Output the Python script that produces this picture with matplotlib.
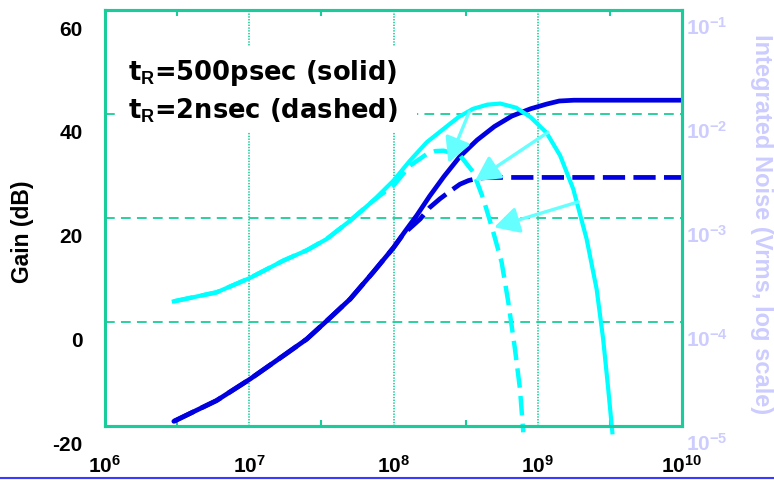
import matplotlib
matplotlib.use('Agg')
import matplotlib.pyplot as plt
import matplotlib.transforms as mtransforms
from matplotlib.lines import Line2D
from matplotlib.patches import Rectangle
from matplotlib.ticker import NullFormatter, NullLocator

# gain curves (dB), tR=500ps solid / tR=2ns dashed
f_gain_solid = [3.0e6, 5.94e6, 1.01e7, 1.72e7, 2.5e7, 3.44e7, 5.0e7, 7.24e7, 1.0e8, 1.2e8,
                1.45e8, 1.78e8, 2.24e8, 2.88e8, 3.8e8, 5.01e8, 6.61e8, 8.91e8, 1.15e9,
                1.41e9, 1.78e9, 1.0e10]
gain_solid = [-19.1, -15.1, -11.0, -6.5, -3.3, 0.2, 4.4, 9.6, 14.3, 17.4,
              20.5, 24.2, 28.0, 31.8, 35.0, 37.6, 39.6, 41.0, 41.9,
              42.5, 42.65, 42.65]
f_gain_dash = [3.0e6, 5.94e6, 1.01e7, 1.72e7, 2.5e7, 3.44e7, 5.0e7, 7.24e7, 1.0e8, 1.17e8,
               1.53e8, 1.78e8, 2.1e8, 2.51e8, 2.89e8, 3.31e8, 3.78e8, 4.47e8, 1.0e10]
gain_dash = [-19.1, -15.1, -11.0, -6.5, -3.3, 0.2, 4.4, 9.6, 14.3, 16.9,
             19.8, 22.0, 23.7, 25.3, 26.5, 27.2, 27.6, 27.8, 27.8]

# integrated noise (Vrms)
f_noise_solid = [3.0e6, 5.94e6, 1.01e7, 1.72e7, 2.51e7, 3.44e7, 5.0e7, 7.24e7, 1.0e8, 1.3e8,
                 1.7e8, 2.22e8, 2.82e8, 3.55e8, 4.47e8, 5.5e8, 7.08e8, 8.91e8, 1.15e9,
                 1.43e9, 1.76e9, 2.18e9, 2.56e9, 2.84e9, 3.08e9, 3.29e9]
noise_solid = [1.58e-4, 1.93e-4, 2.65e-4, 3.89e-4, 4.9e-4, 6.28e-4, 9.42e-4, 1.47e-3, 2.29e-3,
               3.56e-3, 5.35e-3, 7.18e-3, 9.33e-3, 1.12e-2, 1.23e-2, 1.26e-2, 1.15e-2,
               9.33e-3, 6.61e-3, 3.98e-3, 1.91e-3, 6.31e-4, 2.07e-4, 6.87e-5, 2.27e-5, 8.7e-6]
f_noise_dash = [3.0e6, 5.94e6, 1.01e7, 1.72e7, 2.51e7, 3.44e7, 5.0e7, 7.24e7, 8.5e7, 1.0e8,
                1.3e8, 1.7e8, 1.95e8, 2.22e8, 2.9e8, 3.58e8, 4.2e8, 4.92e8, 5.62e8, 6.25e8,
                6.95e8, 7.53e8, 7.94e8]
noise_dash = [1.58e-4, 1.93e-4, 2.65e-4, 3.89e-4, 4.9e-4, 6.28e-4, 9.42e-4, 1.47e-3, 1.74e-3,
              2.05e-3, 3.18e-3, 4.12e-3, 4.4e-3, 4.44e-3, 3.98e-3, 2.75e-3, 1.52e-3, 7.3e-4,
              3.75e-4, 1.55e-4, 5.5e-5, 2.27e-5, 8.7e-6]

# arrows, in (Hz, dB) of the gain axis
arrow_tail_f = [3.35e8, 1.18e9, 1.91e9]
arrow_tail_g = [40.4, 36.5, 23.1]
arrow_tip_f = [2.40e8, 3.67e8, 4.98e8]
arrow_tip_g = [30.6, 27.1, 18.2]

gain_ticks = [-20, 0, 20, 40, 60]
half_decades = [3.16e6, 3.16e7, 3.16e8, 3.16e9]

GREEN = '#19cc99'
BLUE = '#0000e0'
CYAN = '#00ffff'
ARROW = '#66ffff'
LAV = '#ccccff'

plt.rcParams['font.family'] = 'Liberation Sans'
plt.rcParams['font.weight'] = 'bold'
plt.rcParams['mathtext.fontset'] = 'custom'
plt.rcParams['mathtext.bf'] = 'Liberation Sans:bold'
plt.rcParams['mathtext.rm'] = 'Liberation Sans:bold'
plt.rcParams['mathtext.default'] = 'bf'
plt.rcParams['axes.unicode_minus'] = False
plt.rcParams['lines.scale_dashes'] = False

fig = plt.figure(figsize=(7.74, 4.81), dpi=100)
ax = fig.add_axes([105 / 774, 1 - 427 / 481, 577 / 774, 416 / 481])
ax2 = ax.twinx()

ax.set_xscale('log')
ax.set_xlim(1e6, 1e10)
ax.set_ylim(-20, 60)
ax.set_yticks(gain_ticks)
ax2.set_yscale('log')
ax2.set_ylim(1e-5, 1e-1)
ax2.yaxis.set_minor_locator(NullLocator())

ax.set_xticks([1e6, 1e7, 1e8, 1e9, 1e10])
ax.set_xticks(half_decades, minor=True)
ax.xaxis.set_minor_formatter(NullFormatter())
ax.xaxis.grid(True, which='major', color=GREEN, lw=1.2, ls=(0, (1, 1)))
ax.yaxis.grid(True, color=GREEN, lw=1.3, ls=(0, (7, 4.5)))

ax.tick_params(axis='x', which='major', length=0, pad=2, labelsize=15)
ax.tick_params(axis='x', which='minor', direction='in', length=4, width=1.5,
               color=GREEN, top=True, bottom=True)
ax.tick_params(axis='y', length=0, pad=16, labelsize=15)
ax2.tick_params(axis='y', length=0, pad=3, labelsize=15, labelcolor=LAV)

for a in (ax, ax2):
    for sp in a.spines.values():
        sp.set_color(GREEN)
        sp.set_linewidth(2.2)

# tick labels sit a little below their grid lines, as in the slide
off_left = mtransforms.ScaledTranslation(0, -0.17, fig.dpi_scale_trans)
for lbl in ax.get_yticklabels():
    lbl.set_transform(lbl.get_transform() + off_left)
off_right = mtransforms.ScaledTranslation(0, -0.15, fig.dpi_scale_trans)
for lbl in ax2.get_yticklabels():
    lbl.set_transform(lbl.get_transform() + off_right)
off_bottom = mtransforms.ScaledTranslation(0, -0.25, fig.dpi_scale_trans)
for lbl in ax.get_xticklabels():
    lbl.set_transform(lbl.get_transform() + off_bottom)

# white box behind the legend text
ax.add_patch(Rectangle((0.0225, 0.7067), 0.5182, 0.2068, transform=ax.transAxes,
                       facecolor='white', edgecolor='none', zorder=1.8))
ax.text(0.0399, 0.834, 't$_{\\mathbf{R}}$=500psec (solid)', transform=ax.transAxes,
        fontsize=18.5, family='DejaVu Sans', weight='bold', va='baseline', zorder=3)
ax.text(0.0399, 0.740, 't$_{\\mathbf{R}}$=2nsec (dashed)', transform=ax.transAxes,
        fontsize=18.5, family='DejaVu Sans', weight='bold', va='baseline', zorder=3)

ax.plot(f_gain_solid, gain_solid, color=BLUE, lw=3.4, solid_capstyle='round',
        solid_joinstyle='round', zorder=2)
ax.plot(f_gain_dash, gain_dash, color=BLUE, lw=3.4, dashes=(16, 6), zorder=2)

ax2.plot(f_noise_solid, noise_solid, color=CYAN, lw=3, solid_joinstyle='round',
         clip_on=False)
ax2.plot(f_noise_dash, noise_dash, color=CYAN, lw=3.2, dashes=(14, 6), clip_on=False)

for tf, tg, hf, hg in zip(arrow_tail_f, arrow_tail_g, arrow_tip_f, arrow_tip_g):
    ax2.annotate('', xy=(hf, hg), xycoords=ax.transData, xytext=(tf, tg),
                 textcoords=ax.transData,
                 arrowprops=dict(arrowstyle='-|>,head_length=0.75,head_width=0.4',
                                 mutation_scale=20, color=ARROW, lw=2.4,
                                 shrinkA=0, shrinkB=0))

fig.text(23 / 774, 1 - 232 / 481, 'Gain (dB)', rotation=90, ha='center', va='center',
         fontsize=16.5, fontweight='bold')
fig.text(761 / 774, 1 - 224 / 481, 'Integrated Noise (Vrms, log scale)', rotation=-90,
         ha='center', va='center', fontsize=17, fontweight='bold', color=LAV)

fig.add_artist(Line2D([0, 1], [1 - 479 / 481] * 2, transform=fig.transFigure,
                      color='#3b3bff', lw=1.5))

fig.savefig('out.png', dpi=100)
